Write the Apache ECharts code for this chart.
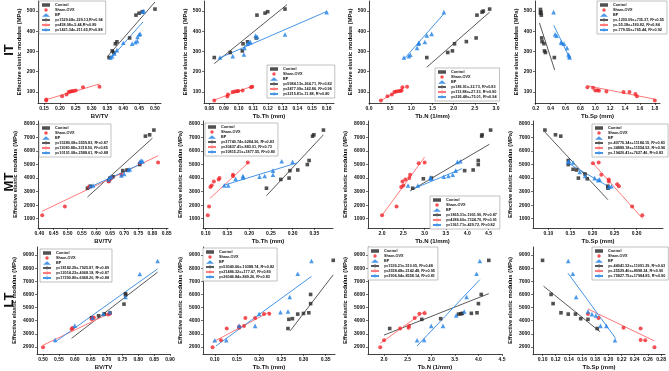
<!DOCTYPE html>
<html>
<head>
<meta charset="utf-8">
<script src="https://cdn.jsdelivr.net/npm/echarts@6/dist/echarts.min.js"></script>
<style>
html,body{margin:0;padding:0;background:#fff;}
#main{width:669px;height:371px;}
</style>
</head>
<body>
<div id="main"></div>
<script>
// ---------- y ticks per row ----------
var itYTicks = [100, 200, 300, 400, 500];
var mtYTicks = [1000, 2000, 3000, 4000, 5000, 6000, 7000, 8000];
var ltYTicks = [2000, 3000, 4000, 5000, 6000, 7000, 8000, 9000];

// ---------- x ticks per panel ----------
var itBvtvTicks = [0.15, 0.20, 0.25, 0.30, 0.35, 0.40, 0.45, 0.50];
var itTbthTicks = [0.08, 0.09, 0.10, 0.11, 0.12, 0.13, 0.14, 0.15, 0.16];
var itTbnTicks = [0.0, 0.5, 1.0, 1.5, 2.0, 2.5, 3.0];
var itTbspTicks = [0.2, 0.4, 0.6, 0.8, 1.0, 1.2, 1.4, 1.6, 1.8];
var mtBvtvTicks = [0.40, 0.45, 0.50, 0.55, 0.60, 0.65, 0.70, 0.75, 0.80, 0.85];
var mtTbthTicks = [0.10, 0.15, 0.20, 0.25, 0.30, 0.35];
var mtTbnTicks = [2.0, 2.5, 3.0, 3.5, 4.0, 4.5];
var mtTbspTicks = [0.10, 0.15, 0.20, 0.25, 0.30];
var ltBvtvTicks = [0.50, 0.55, 0.60, 0.65, 0.70, 0.75, 0.80, 0.85, 0.90];
var ltTbthTicks = [0.10, 0.15, 0.20, 0.25, 0.30, 0.35];
var ltTbnTicks = [2.0, 2.5, 3.0, 3.5, 4.0, 4.5];
var ltTbspTicks = [0.10, 0.12, 0.14, 0.16, 0.18, 0.20, 0.22, 0.24, 0.26, 0.28];

// ---------- IT row ----------
var itBvtvCtrl = [[0.355,270],[0.37,295],[0.365,303],[0.375,338],[0.38,348],[0.42,367],[0.44,480],[0.45,490],[0.46,497],[0.50,510]];
var itBvtvSham = [[0.157,57],[0.157,62],[0.207,79],[0.221,87],[0.228,100],[0.233,102],[0.238,103],[0.243,105],[0.25,107],[0.273,123],[0.325,125]];
var itBvtvBp = [[0.36,270],[0.365,277],[0.372,290],[0.38,307],[0.40,343],[0.428,339],[0.438,346],[0.444,352],[0.445,372],[0.45,384],[0.453,388],[0.46,497],[0.465,500]];
var itBvtvFits = [[[0.35,275],[0.50,545]], [[0.157,62],[0.325,139]], [[0.357,260],[0.462,446]]];
var itBvtvEq = ['y=1529.68x-229.13,R²=0.94', 'y=458.08x-5.44,R²=0.89', 'y=1421.34x-211.65,R²=0.88'];

var itTbthCtrl = [[0.0834,270],[0.0943,295],[0.1025,303],[0.103,338],[0.1061,348],[0.112,367],[0.1125,480],[0.118,490],[0.1198,497],[0.1316,510]];
var itTbthSham = [[0.0834,57],[0.0923,77],[0.0927,87],[0.0959,100],[0.0975,102],[0.0989,103],[0.0998,105],[0.1027,107],[0.1084,123],[0.1093,125]];
var itTbthBp = [[0.0873,270],[0.096,277],[0.1036,285],[0.104,318],[0.106,339],[0.107,345],[0.108,347],[0.1116,379],[0.1127,372],[0.1316,384],[0.16,495]];
var itTbthFits = [[[0.0834,240],[0.133,532]], [[0.0834,60],[0.11,130]], [[0.087,268],[0.16,498]]];
var itTbthEq = ['y=5984.13x-264.71, R²=0.82', 'y=2477.09x-142.86, R²=0.96', 'y=3215.81x-11.88, R²=0.80'];

var itTbnCtrl = [[1.365,270],[1.86,295],[1.97,303],[2.02,338],[2.3,349],[2.53,367],[2.55,480],[2.67,495],[2.7,500],[2.85,510]];
var itTbnSham = [[0.28,57],[0.437,79],[0.54,87],[0.6,100],[0.64,102],[0.69,103],[0.74,105],[0.77,107],[0.79,123],[0.9,125]];
var itTbnBp = [[0.825,270],[0.94,277],[0.976,284],[1.135,318],[1.17,339],[1.18,344],[1.32,347],[1.365,380],[1.48,387],[1.77,495]];
var itTbnFits = [[[1.365,222],[2.85,495]], [[0.28,57],[0.83,123]], [[0.825,262],[1.77,487]]];
var itTbnEq = ['y=186.91x-32.73, R²=0.83', 'y=113.88x+27.33, R²=0.90', 'y=226.48x+75.01, R²=0.94'];

var itTbspCtrl = [[0.263,508],[0.27,495],[0.263,490],[0.275,480],[0.28,367],[0.285,349],[0.31,339],[0.317,303],[0.33,295],[0.45,270]];
var itTbspSham = [[0.895,123],[0.97,121],[1.0,107],[1.03,108],[1.05,106],[1.15,102],[1.38,100],[1.46,100],[1.54,90],[1.56,79],[1.8,57]];
var itTbspBp = [[0.44,495],[0.46,385],[0.48,378],[0.54,346],[0.55,342],[0.58,339],[0.62,318],[0.64,285],[0.65,277],[0.655,270]];
var itTbspFits = [[[0.25,441],[0.455,208]], [[0.895,130],[1.8,64]], [[0.442,430],[0.653,270]]];
var itTbspEq = ['y=-1205.09x+735.37, R²=0.55', 'y=-55.38x+180.82, R²=0.84', 'y=-779.55x+765.44, R²=0.92'];

// ---------- MT row ----------
var mtBvtvCtrl = [[0.57,3250],[0.58,3400],[0.645,3800],[0.65,4000],[0.66,4100],[0.695,4550],[0.71,4600],[0.755,5000],[0.775,7100],[0.79,7200],[0.805,7550]];
var mtBvtvSham = [[0.41,1250],[0.49,1900],[0.575,3350],[0.645,3750],[0.65,3900],[0.655,4000],[0.69,4250],[0.755,5100],[0.82,5150]];
var mtBvtvBp = [[0.58,3400],[0.59,3450],[0.645,3900],[0.65,4050],[0.655,4100],[0.69,4200],[0.70,4300],[0.715,4600],[0.72,4650],[0.755,5200],[0.76,5300],[0.765,5250]];
var mtBvtvFits = [[[0.57,2600],[0.80,6950]], [[0.41,1550],[0.82,5650]], [[0.57,3250],[0.77,5150]]];
var mtBvtvEq = ['y=15280.08x-5559.83, R²=0.87', 'y=11080.88x-3318.50, R²=0.85', 'y=10101.08x-2588.61, R²=0.88'];

var mtTbthCtrl = [[0.24,3250],[0.273,3900],[0.292,4000],[0.294,4550],[0.312,4600],[0.334,5000],[0.338,5300],[0.346,7100],[0.349,7200],[0.371,7550]];
var mtTbthSham = [[0.105,1250],[0.108,1900],[0.111,3350],[0.114,3450],[0.119,3750],[0.13,3900],[0.132,4000],[0.163,4150],[0.163,4250],[0.197,5150]];
var mtTbthBp = [[0.143,3450],[0.152,3450],[0.169,3950],[0.186,4150],[0.186,4050],[0.224,4100],[0.236,4150],[0.255,4550],[0.255,4250],[0.275,5250],[0.30,5200]];
var mtTbthFits = [[[0.24,2700],[0.371,7200]], [[0.11,2500],[0.197,5100]], [[0.14,3450],[0.313,5150]]];
var mtTbthEq = ['y=37740.74x-6284.36, R²=0.83', 'y=30437.41x-883.01, R²=0.73', 'y=10815.21x+1877.55, R²=0.80'];

var mtTbnCtrl = [[2.72,3250],[2.97,3950],[3.16,4000],[3.94,4550],[4.14,4600],[4.26,5000],[4.26,5300],[4.34,7100],[4.35,7200],[4.55,7550]];
var mtTbnSham = [[2.0,1250],[2.34,1900],[2.45,3350],[2.5,3450],[2.48,3750],[2.55,3900],[2.64,4000],[2.66,4250],[2.86,5100],[3.0,5150]];
var mtTbnBp = [[2.61,3450],[2.84,3450],[3.14,3950],[3.14,4050],[3.45,4100],[3.56,4150],[3.66,4250],[3.73,4550],[3.77,5200],[3.84,5250]];
var mtTbnFits = [[[2.66,3050],[4.52,6500]], [[2.0,1250],[3.0,5550]], [[2.69,3150],[3.88,4700]]];
var mtTbnEq = ['y=1865.31x-1901.90, R²=0.87', 'y=4286.60x-7324.70, R²=0.91', 'y=1361.71x-429.72, R²=0.82'];

var mtTbspCtrl = [[0.092,7550],[0.116,7200],[0.128,7100],[0.145,5300],[0.145,5000],[0.156,4650],[0.164,4600],[0.168,4000],[0.183,4300],[0.188,3950],[0.235,3250],[0.235,3400]];
var mtTbspSham = [[0.201,5100],[0.214,5150],[0.22,4250],[0.237,3900],[0.237,3750],[0.256,3550],[0.26,3400],[0.29,1900],[0.313,1250]];
var mtTbspBp = [[0.145,5200],[0.147,5250],[0.156,5150],[0.171,4450],[0.183,4150],[0.205,4000],[0.213,3850],[0.216,3900],[0.237,3350],[0.243,3400]];
var mtTbspFits = [[[0.092,7400],[0.235,2400]], [[0.201,5100],[0.314,1000]], [[0.145,5100],[0.243,3250]]];
var mtTbspEq = ['y=-40776.34x+11184.15, R²=0.83', 'y=-34889.18x+11554.52, R²=0.96', 'y=-19420.41x+7627.46, R²=0.83'];

// ---------- LT row ----------
var ltBvtvCtrl = [[0.653,4220],[0.675,4370],[0.693,4520],[0.711,4590],[0.755,5260],[0.76,5960],[0.76,6060]];
var ltBvtvSham = [[0.50,1975],[0.59,3370],[0.593,3440],[0.653,4120],[0.656,4170],[0.66,4240],[0.705,4470],[0.71,4520]];
var ltBvtvBp = [[0.538,2520],[0.60,3620],[0.656,4220],[0.69,4520],[0.71,4640],[0.76,5810],[0.805,7560],[0.861,8550]];
var ltBvtvFits = [[[0.59,2650],[0.861,7700]], [[0.50,2125],[0.71,4560]], [[0.538,2370],[0.861,7950]]];
var ltBvtvEq = ['y=18182.29x-7925.87, R²=0.89', 'y=12014.23x-4068.18, R²=0.87', 'y=17290.80x-6968.20, R²=0.88'];

var ltTbthCtrl = [[0.265,3400],[0.267,4100],[0.275,4150],[0.287,4500],[0.30,4550],[0.312,4600],[0.316,5300],[0.316,6000],[0.367,8600]];
var ltTbthSham = [[0.095,1975],[0.114,2500],[0.127,3400],[0.155,3450],[0.155,3550],[0.166,3600],[0.169,4200],[0.191,4200],[0.211,4500],[0.223,4520]];
var ltTbthBp = [[0.10,2500],[0.126,2500],[0.155,3600],[0.191,3600],[0.20,4520],[0.248,4640],[0.265,4700],[0.269,5800],[0.287,7580],[0.318,8550]];
var ltTbthFits = [[[0.27,3220],[0.367,7500]], [[0.095,2350],[0.223,4660]], [[0.103,2075],[0.318,7380]]];
var ltTbthEq = ['y=53040.66x-10388.74, R²=0.82', 'y=21486.32x+177.67, R²=0.80', 'y=26046.84x-869.26, R²=0.83'];

var ltTbnCtrl = [[2.12,3400],[2.8,4100],[3.2,4150],[3.58,4500],[3.63,4520],[3.66,4560],[3.85,4560],[3.97,4600],[4.0,5300],[4.06,6000],[4.22,8600]];
var ltTbnSham = [[1.92,1975],[2.0,2500],[2.34,3400],[2.52,3450],[2.53,3600],[2.65,4200],[2.75,4520],[2.86,4560]];
var ltTbnBp = [[2.7,2500],[2.85,2520],[3.0,3600],[3.25,3600],[3.53,4400],[3.7,4700],[3.75,5800],[3.96,7580],[4.03,8550]];
var ltTbnFits = [[[2.0,2900],[4.22,6060]], [[1.92,2270],[2.88,4760]], [[2.7,2070],[4.03,7130]]];
var ltTbnEq = ['y=1536.21x-510.05, R²=0.48', 'y=2558.48x-2142.48, R²=0.95', 'y=3906.94x-8558.14, R²=0.81'];

var ltTbspCtrl = [[0.10,8600],[0.113,6000],[0.116,5300],[0.128,4600],[0.139,4500],[0.15,4500],[0.158,4150],[0.169,4100],[0.183,3400]];
var ltTbspSham = [[0.169,4500],[0.185,4200],[0.223,3450],[0.249,3400],[0.249,2520],[0.256,2500],[0.27,1975]];
var ltTbspBp = [[0.139,8550],[0.146,7580],[0.151,5800],[0.169,4700],[0.175,4500],[0.181,4400],[0.188,3600],[0.197,3600],[0.21,2500]];
var ltTbspFits = [[[0.1015,6630],[0.1875,3145]], [[0.169,4890],[0.27,2450]], [[0.1385,7630],[0.211,2650]]];
var ltTbspEq = ['y=-44041.52x+11091.29, R²=0.63', 'y=-25529.40x+8998.24, R²=0.90', 'y=-75827.75x+17984.85, R²=0.90'];

var rows = {
    it: {yMin: 45, yMax: 550, yTicks: itYTicks, nameGap: 13},
    mt: {yMin: 310, yMax: 8220, yTicks: mtYTicks, nameGap: 20},
    lt: {yMin: 1455, yMax: 9620, yTicks: ltYTicks, nameGap: 20}
};

var panels = [
    {row:'it', xName:'BV/TV', box:[38,1,123,102], xMin:0.131, xMax:0.519, xTicks:itBvtvTicks, dec:2, legend:[39,1], ctrl:itBvtvCtrl, sham:itBvtvSham, bp:itBvtvBp, fits:itBvtvFits, eq:itBvtvEq},
    {row:'it', xName:'Tb.Th (mm)', box:[204,1,130,102], xMin:0.0764, xMax:0.165, xTicks:itTbthTicks, dec:2, legend:[267,65], ctrl:itTbthCtrl, sham:itTbthSham, bp:itTbthBp, fits:itTbthFits, eq:itTbthEq},
    {row:'it', xName:'Tb.N (1/mm)', box:[369,1,127,102], xMin:0, xMax:3, xTicks:itTbnTicks, dec:1, legend:[435,68], ctrl:itTbnCtrl, sham:itTbnSham, bp:itTbnBp, fits:itTbnFits, eq:itTbnEq},
    {row:'it', xName:'Tb.Sp (mm)', box:[535,1,125,102], xMin:0.19, xMax:1.87, xTicks:itTbspTicks, dec:1, legend:[597,1], ctrl:itTbspCtrl, sham:itTbspSham, bp:itTbspBp, fits:itTbspFits, eq:itTbspEq},

    {row:'mt', xName:'BV/TV', box:[38,121,130,107], xMin:0.395, xMax:0.855, xTicks:mtBvtvTicks, dec:2, legend:[39,124], ctrl:mtBvtvCtrl, sham:mtBvtvSham, bp:mtBvtvBp, fits:mtBvtvFits, eq:mtBvtvEq},
    {row:'mt', xName:'Tb.Th (mm)', box:[203,121,130,107], xMin:0.094, xMax:0.393, xTicks:mtTbthTicks, dec:2, legend:[205,123], ctrl:mtTbthCtrl, sham:mtTbthSham, bp:mtTbthBp, fits:mtTbthFits, eq:mtTbthEq},
    {row:'mt', xName:'Tb.N (1/mm)', box:[368,121,129,107], xMin:1.67, xMax:4.7, xTicks:mtTbnTicks, dec:1, legend:[430,196], ctrl:mtTbnCtrl, sham:mtTbnSham, bp:mtTbnBp, fits:mtTbnFits, eq:mtTbnEq},
    {row:'mt', xName:'Tb.Sp (mm)', box:[533,121,130,107], xMin:0.065, xMax:0.36, xTicks:mtTbspTicks, dec:2, legend:[592,124], ctrl:mtTbspCtrl, sham:mtTbspSham, bp:mtTbspBp, fits:mtTbspFits, eq:mtTbspEq},

    {row:'lt', xName:'BV/TV', box:[37,247,133,109], xMin:0.481, xMax:0.90, xTicks:ltBvtvTicks, dec:2, legend:[40,249], ctrl:ltBvtvCtrl, sham:ltBvtvSham, bp:ltBvtvBp, fits:ltBvtvFits, eq:ltBvtvEq},
    {row:'lt', xName:'Tb.Th (mm)', box:[203,247,132,109], xMin:0.0735, xMax:0.371, xTicks:ltTbthTicks, dec:2, legend:[203,248], ctrl:ltTbthCtrl, sham:ltTbthSham, bp:ltTbthBp, fits:ltTbthFits, eq:ltTbthEq},
    {row:'lt', xName:'Tb.N (1/mm)', box:[368,247,134,109], xMin:1.66, xMax:4.5, xTicks:ltTbnTicks, dec:1, legend:[368,247], ctrl:ltTbnCtrl, sham:ltTbnSham, bp:ltTbnBp, fits:ltTbnFits, eq:ltTbnEq},
    {row:'lt', xName:'Tb.Sp (mm)', box:[533,247,132,109], xMin:0.0855, xMax:0.286, xTicks:ltTbspTicks, dec:2, legend:[592,247], ctrl:ltTbspCtrl, sham:ltTbspSham, bp:ltTbspBp, fits:ltTbspFits, eq:ltTbspEq}
];

var pointColors = ['#262626', '#f0262c', '#1f7fe5'];
var fitColors = ['#5a5a5a', '#ff7a7a', '#4795e6'];
var groupNames = ['Control', 'Sham-OVX', 'BP'];
var symbols = ['rect', 'circle', 'triangle'];
var symbolSizes = [3.6, 4, 4.6];

var myChart = echarts.init(document.getElementById('main'));

var grid = [], xAxis = [], yAxis = [], series = [], legend = [];

panels.forEach(function (p, i) {
    var r = rows[p.row];
    grid.push({left: p.box[0], top: p.box[1], width: p.box[2], height: p.box[3]});
    xAxis.push({
        type: 'value', gridIndex: i, min: p.xMin, max: p.xMax,
        name: p.xName, nameLocation: 'middle', nameGap: 10,
        nameTextStyle: {fontSize: 6, fontWeight: 'bold', color: '#111'},
        axisLine: {show: true, onZero: false, lineStyle: {color: '#111', width: 0.8}},
        axisTick: {show: true, customValues: p.xTicks, length: 2, lineStyle: {color: '#111', width: 0.6}},
        axisLabel: {customValues: p.xTicks, fontSize: 5, fontWeight: 'bold', color: '#111', margin: 3,
            formatter: function (v) { return v.toFixed(p.dec); }},
        splitLine: {show: false}
    });
    yAxis.push({
        type: 'value', gridIndex: i, min: r.yMin, max: r.yMax,
        name: 'Effective elastic modulus (MPa)', nameLocation: 'middle', nameRotate: 90, nameGap: r.nameGap,
        nameTextStyle: {fontSize: 5.8, fontWeight: 'bold', color: '#111'},
        axisLine: {show: true, onZero: false, lineStyle: {color: '#111', width: 0.8}},
        axisTick: {show: true, customValues: r.yTicks, length: 2, lineStyle: {color: '#111', width: 0.6}},
        axisLabel: {customValues: r.yTicks, fontSize: 5, fontWeight: 'bold', color: '#111', margin: 3,
            formatter: function (v) { return String(v); }},
        splitLine: {show: false}
    });
    [p.ctrl, p.sham, p.bp].forEach(function (d, k) {
        series.push({
            type: 'line', name: p.eq[k], xAxisIndex: i, yAxisIndex: i,
            data: p.fits[k], symbol: 'none', silent: true, z: 1,
            lineStyle: {color: fitColors[k], width: 1}, itemStyle: {color: fitColors[k]}
        });
        series.push({
            type: 'scatter', name: groupNames[k], xAxisIndex: i, yAxisIndex: i,
            data: d, symbol: symbols[k], symbolSize: symbolSizes[k], z: 3,
            itemStyle: {color: pointColors[k]}
        });
    });
    legend.push({
        left: p.legend[0], top: p.legend[1], orient: 'vertical',
        itemGap: 1, itemWidth: 8, itemHeight: 3.5, padding: [2, 3, 2, 2],
        borderColor: '#999', borderWidth: 0.6, backgroundColor: '#fff',
        selectedMode: false,
        textStyle: {fontSize: 3.8, fontWeight: 'bold', color: '#111'},
        data: groupNames.concat(p.eq)
    });
});

var option = {
    animation: false,
    backgroundColor: '#fff',
    textStyle: {fontFamily: 'Liberation Sans, Arial, sans-serif'},
    grid: grid,
    xAxis: xAxis,
    yAxis: yAxis,
    legend: legend,
    series: series,
    graphic: [
        {type: 'text', x: 9, y: 50, rotation: Math.PI / 2, style: {text: 'IT', font: 'bold 13px Liberation Sans, Arial', fill: '#111', align: 'center', verticalAlign: 'middle'}},
        {type: 'text', x: 9, y: 182, rotation: Math.PI / 2, style: {text: 'MT', font: 'bold 13px Liberation Sans, Arial', fill: '#111', align: 'center', verticalAlign: 'middle'}},
        {type: 'text', x: 9, y: 300, rotation: Math.PI / 2, style: {text: 'LT', font: 'bold 13px Liberation Sans, Arial', fill: '#111', align: 'center', verticalAlign: 'middle'}}
    ]
};
myChart.setOption(option);
window.onresize = function () {
    myChart.resize();
};
</script>
</body>
</html>
